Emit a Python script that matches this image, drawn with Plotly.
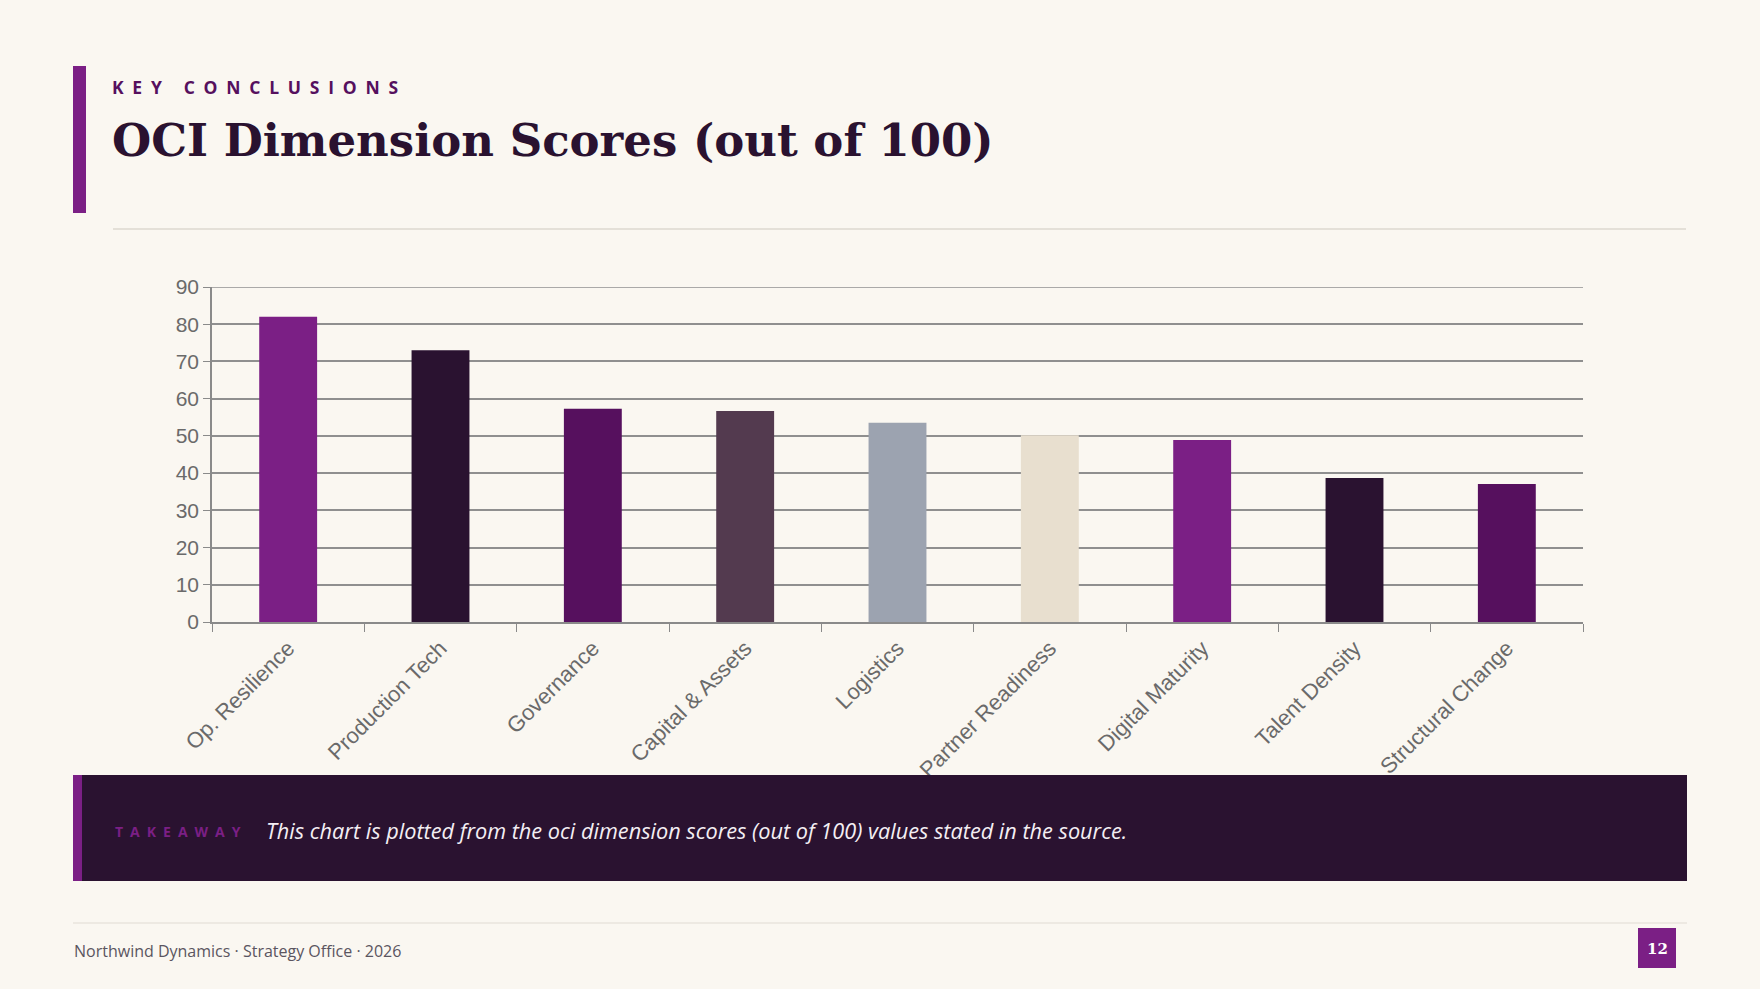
import plotly.graph_objects as go

# ---- data ----
categories = ["Op. Resilience", "Production Tech", "Governance", "Capital & Assets",
              "Logistics", "Partner Readiness", "Digital Maturity", "Talent Density",
              "Structural Change"]
scores = [82, 73, 57.3, 56.7, 53.5, 50.2, 48.9, 38.7, 37.1]
bar_colors = ["#7B1F85", "#2A1230", "#56105E", "#533A4F", "#9CA3B0", "#E8DFCF",
              "#7B1F85", "#2A1230", "#56105E"]
y_ticks = [0, 10, 20, 30, 40, 50, 60, 70, 80, 90]

eyebrow = "KEY CONCLUSIONS"
title = "OCI Dimension Scores (out of 100)"
takeaway_label = "TAKEAWAY"
takeaway_text = "This chart is plotted from the oci dimension scores (out of 100) values stated in the source."
footer_text = "Northwind Dynamics · Strategy Office · 2026"
page_no = "12"

# ---- layout geometry (pixels) ----
W, H = 1760, 989
L, R, T, B = 212, 177, 287, 367
PW, PH = W - L - R, H - T - B
BG = "#FAF7F1"
DARK = "#2A1230"
PURPLE = "#7B1F85"
GRID = "#8F8F8F"


def px(x):
    return (x - L) / PW


def py(y):
    return (H - B - y) / PH


def spaced(s, gap, word_gap):
    words = s.split(" ")
    return word_gap.join(gap.join(list(w)) for w in words)


fig = go.Figure()
fig.add_trace(go.Bar(
    x=categories, y=scores,
    marker=dict(color=bar_colors, line=dict(width=0)),
    hoverinfo="x+y",
))

shapes = [
    # top gridline at the range maximum
    dict(type="line", xref="paper", yref="y", x0=0, x1=1, y0=y_ticks[-1], y1=y_ticks[-1],
         line=dict(color=GRID, width=1.5), layer="below"),
    # left accent bar
    dict(type="rect", xref="paper", yref="paper", x0=px(73), x1=px(86), y0=py(66), y1=py(213),
         fillcolor=PURPLE, line=dict(width=0), layer="above"),
    # separator under title
    dict(type="line", xref="paper", yref="paper", x0=px(113), x1=px(1686), y0=py(229), y1=py(229),
         line=dict(color="#E4E0D8", width=2)),
    # takeaway box
    dict(type="rect", xref="paper", yref="paper", x0=px(73), x1=px(1687), y0=py(775), y1=py(881),
         fillcolor=DARK, line=dict(width=0)),
    dict(type="rect", xref="paper", yref="paper", x0=px(73), x1=px(82), y0=py(775), y1=py(881),
         fillcolor=PURPLE, line=dict(width=0)),
    # footer line
    dict(type="line", xref="paper", yref="paper", x0=px(73), x1=px(1687), y0=py(923), y1=py(923),
         line=dict(color="#E8E4DD", width=1.5)),
    # page number box
    dict(type="rect", xref="paper", yref="paper", x0=px(1638), x1=px(1676), y0=py(928), y1=py(968),
         fillcolor=PURPLE, line=dict(width=0)),
]

annotations = [
    dict(text="<b>" + spaced(eyebrow, "\u2002", "\u2003\u2005") + "</b>", x=px(110), y=py(87),
         xref="paper", yref="paper", xanchor="left", yanchor="middle", showarrow=False,
         font=dict(family="Open Sans", size=17.5, color="#56105E")),
    dict(text="<b>" + title + "</b>", x=px(110), y=py(141), xref="paper", yref="paper",
         xanchor="left", yanchor="middle", showarrow=False,
         font=dict(family="DejaVu Serif", size=45, color=DARK)),
    dict(text="<b>" + spaced(takeaway_label, "\u2002", "\u2003") + "</b>", x=px(113), y=py(831),
         xref="paper", yref="paper", xanchor="left", yanchor="middle", showarrow=False,
         font=dict(family="Open Sans", size=14, color=PURPLE)),
    dict(text="<i>" + takeaway_text + "</i>", x=px(264), y=py(830), xref="paper", yref="paper",
         xanchor="left", yanchor="middle", showarrow=False,
         font=dict(family="Open Sans", size=21.7, color="#F4EFF4")),
    dict(text=footer_text, x=px(72), y=py(951), xref="paper", yref="paper",
         xanchor="left", yanchor="middle", showarrow=False,
         font=dict(family="Open Sans", size=16, color="#5A5560")),
    dict(text="<b>" + page_no + "</b>", x=px(1657), y=py(949), xref="paper", yref="paper",
         xanchor="center", yanchor="middle", showarrow=False,
         font=dict(family="DejaVu Serif", size=15, color="#FFFFFF")),
]

fig.update_layout(
    width=W, height=H,
    margin=dict(l=L, r=R, t=T, b=B, autoexpand=False),
    paper_bgcolor=BG, plot_bgcolor=BG,
    showlegend=False,
    bargap=0.62,
    shapes=shapes,
    annotations=annotations,
    font=dict(family="Liberation Sans, Arial", color="#666666"),
)
fig.update_xaxes(
    type="category",
    showline=True, linecolor="#8A8A8A", linewidth=1.5,
    ticks="outside", tickson="boundaries", ticklen=8, tickcolor="#8A8A8A", tickwidth=1,
    tickangle=-45, tickfont=dict(family="Liberation Sans, Arial", size=22, color="#6A6A6A"),
    ticklabelstandoff=3,
    showgrid=False,
)
fig.update_yaxes(
    range=[0, 90], tickvals=y_ticks,
    showline=True, linecolor="#8A8A8A", linewidth=1.5,
    ticks="outside", ticklen=7, tickcolor="#8A8A8A", tickwidth=1,
    tickfont=dict(family="Liberation Sans, Arial", size=21, color="#6A6A6A"),
    showgrid=True, gridcolor=GRID, gridwidth=1.5,
    zeroline=False,
)

fig.write_html("out.html")
